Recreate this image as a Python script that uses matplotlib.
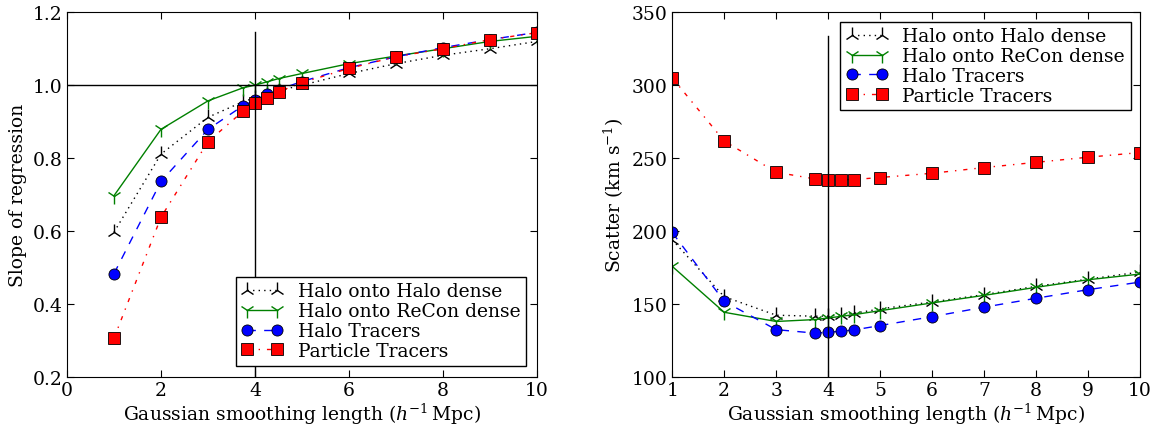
import matplotlib
matplotlib.use('Agg')
import matplotlib.pyplot as plt

plt.rcParams['font.family'] = ['DejaVu Serif']
plt.rcParams['mathtext.fontset'] = 'dejavuserif'
plt.rcParams['font.size'] = 13.5
plt.rcParams['xtick.direction'] = 'in'
plt.rcParams['ytick.direction'] = 'in'
plt.rcParams['xtick.top'] = True
plt.rcParams['ytick.right'] = True
plt.rcParams['xtick.major.size'] = 5
plt.rcParams['ytick.major.size'] = 5
plt.rcParams['xtick.major.pad'] = 3
# old-style dash patterns
plt.rcParams['lines.scale_dashes'] = False
plt.rcParams['lines.dashed_pattern'] = [6, 6]
plt.rcParams['lines.dashdot_pattern'] = [3, 5, 1, 5]
plt.rcParams['lines.dotted_pattern'] = [1, 3]

# smoothing lengths (h^-1 Mpc)
smooth = [1, 2, 3, 3.75, 4, 4.25, 4.5, 5, 6, 7, 8, 9, 10]

# slope of regression
slope_halo_dense = [0.597, 0.811, 0.912, 0.955, 0.965, 0.975, 0.985, 1.0, 1.032, 1.059, 1.082, 1.10, 1.12]
slope_recon_dense = [0.697, 0.879, 0.957, 0.993, 1.0, 1.009, 1.018, 1.032, 1.059, 1.08, 1.10, 1.12, 1.134]
slope_halo_tracers = [0.483, 0.736, 0.879, 0.944, 0.959, 0.975, 0.988, 1.01, 1.048, 1.078, 1.103, 1.125, 1.145]
slope_particle = [0.306, 0.638, 0.845, 0.929, 0.95, 0.966, 0.982, 1.007, 1.046, 1.078, 1.10, 1.125, 1.144]

# scatter (km/s)
scat_halo_dense = [194, 155, 142.3, 141.6, 141.8, 142.7, 143.6, 146.6, 151.4, 156.4, 162.1, 167, 171.9]
scat_recon_dense = [175.8, 144.3, 138, 139.3, 140.4, 141.5, 142.7, 145.4, 150.7, 155.9, 161.4, 166.6, 170.5]
scat_halo_tracers = [199, 151.8, 132.4, 130, 130.6, 131.3, 132.2, 135.2, 141.3, 147.8, 153.9, 159.8, 165]
scat_particle = [305, 261.7, 240.3, 235.7, 235.3, 235.3, 235.3, 236.7, 239.6, 243.5, 247.1, 250.6, 253.8]

labels = ['Halo onto Halo dense', 'Halo onto ReCon dense', 'Halo Tracers', 'Particle Tracers']

fig = plt.figure(figsize=(11.55, 4.27), dpi=100)
ax1 = fig.add_axes([0.058, 0.115, 0.407, 0.854])
ax2 = fig.add_axes([0.582, 0.115, 0.405, 0.854])


def draw(ax, series):
    styles = [
        dict(color='k', ls=':', marker='2', ms=11, mew=1.0),
        dict(color='green', ls='-', marker='1', ms=11, mew=1.0),
        dict(color='blue', ls='--', marker='o', ms=8, mec='k', mew=0.6),
        dict(color='red', ls='-.', marker='s', ms=8, mec='k', mew=0.6),
    ]
    for y, lab, st in zip(series, labels, styles):
        ax.plot(smooth, y, lw=1, label=lab, **st)


draw(ax1, [slope_halo_dense, slope_recon_dense, slope_halo_tracers, slope_particle])
ax1.axhline(1.0, color='k', lw=1)
ax1.axvline(4, ymax=0.945, color='k', lw=1)
ax1.set_xlim(0, 10)
ax1.set_ylim(0.2, 1.2)
ax1.set_xlabel(r'Gaussian smoothing length ($h^{-1}\,$Mpc)', labelpad=1)
ax1.set_ylabel('Slope of regression')
ax1.legend(loc='lower right', numpoints=2, handlelength=2.2, fancybox=False,
           framealpha=1, edgecolor='k', borderpad=0.3, labelspacing=0.1,
           handletextpad=0.8, borderaxespad=0.6)

draw(ax2, [scat_halo_dense, scat_recon_dense, scat_halo_tracers, scat_particle])
ax2.axvline(4, ymax=0.934, color='k', lw=1)
ax2.set_xlim(1, 10)
ax2.set_ylim(100, 350)
ax2.set_xticks(range(1, 11))
ax2.set_xlabel(r'Gaussian smoothing length ($h^{-1}\,$Mpc)', labelpad=1)
ax2.set_ylabel(r'Scatter (km s$^{-1}$)')
ax2.legend(loc='upper right', numpoints=2, handlelength=2.2, fancybox=False,
           framealpha=1, edgecolor='k', borderpad=0.3, labelspacing=0.1,
           handletextpad=0.8, borderaxespad=0.5)

fig.savefig('out.png', dpi=100)
